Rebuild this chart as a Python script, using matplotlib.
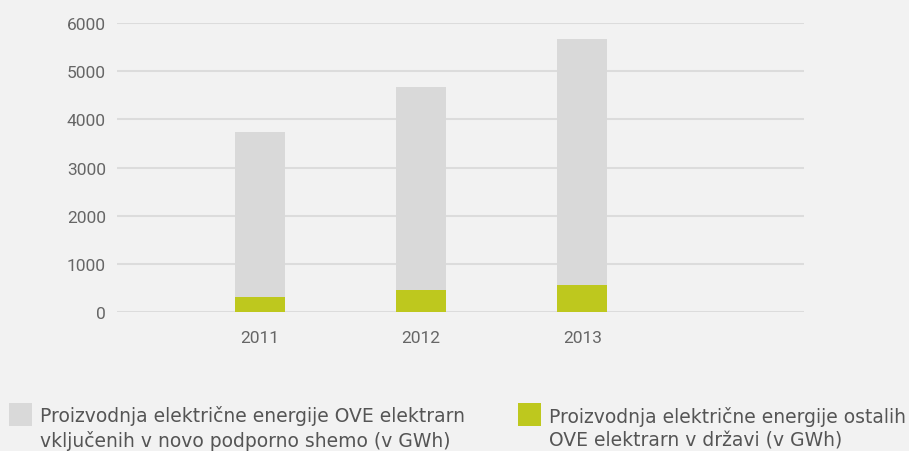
import matplotlib
matplotlib.use("Agg")
import matplotlib.pyplot as plt
from matplotlib.patches import Rectangle
import numpy as np

years = ["2011", "2012", "2013"]
ostale = [317, 463, 566]          # green, bottom
skupaj = [3739, 4673, 5668]       # top of grey bar
nova_shema = [t - o for t, o in zip(skupaj, ostale)]

label_gray = "Proizvodnja električne energije OVE elektrarn\nvključenih v novo podporno shemo (v GWh)"
label_green = "Proizvodnja električne energije ostalih\nOVE elektrarn v državi (v GWh)"

bg = "#f2f2f2"
c_gray = "#d9d9d9"
c_green = "#bec81e"
txt = "#666666"

plt.rcParams['font.family'] = ['Roboto', 'DejaVu Sans']

W, H = 909, 452
fig = plt.figure(figsize=(W / 100, H / 100), dpi=100, facecolor=bg)
ax = fig.add_axes([0.1287, 0.3069, 0.7558, 0.640])
ax.set_facecolor(bg)

x = np.arange(len(years))
w = 0.31
b1 = ax.bar(x, ostale, w, color=c_green, zorder=3)
b2 = ax.bar(x, nova_shema, w, bottom=ostale, color=c_gray, zorder=3)

ax.set_xlim(-0.888, 3.376)
ax.set_ylim(0, 6000)
ax.set_yticks(range(0, 6001, 1000))
ax.set_xticks(x)
ax.set_xticklabels(years)
ax.yaxis.grid(True, color="#dcdcdc", linewidth=1.5, zorder=0)
ax.set_axisbelow(True)
for s in ax.spines.values():
    s.set_visible(False)
ax.tick_params(axis="both", length=0, labelsize=12.5, colors=txt)
ax.tick_params(axis="y", pad=8)
ax.tick_params(axis="x", pad=13)

# legend drawn by hand: square aligned with first text line
for sq_x, col, lab in [(9, c_gray, label_gray), (518, c_green, label_green)]:
    fig.add_artist(Rectangle((sq_x / W, 1 - 427 / H), 23 / W, 23 / H,
                             transform=fig.transFigure, color=col, lw=0))
    fig.text((sq_x + 31) / W, 1 - 447 / H, lab, ha="left", va="baseline",
             fontsize=13.5, color="#555555", linespacing=1.3,
             family=['DejaVu Sans'])

fig.savefig("out.png", dpi=100, facecolor=bg)
